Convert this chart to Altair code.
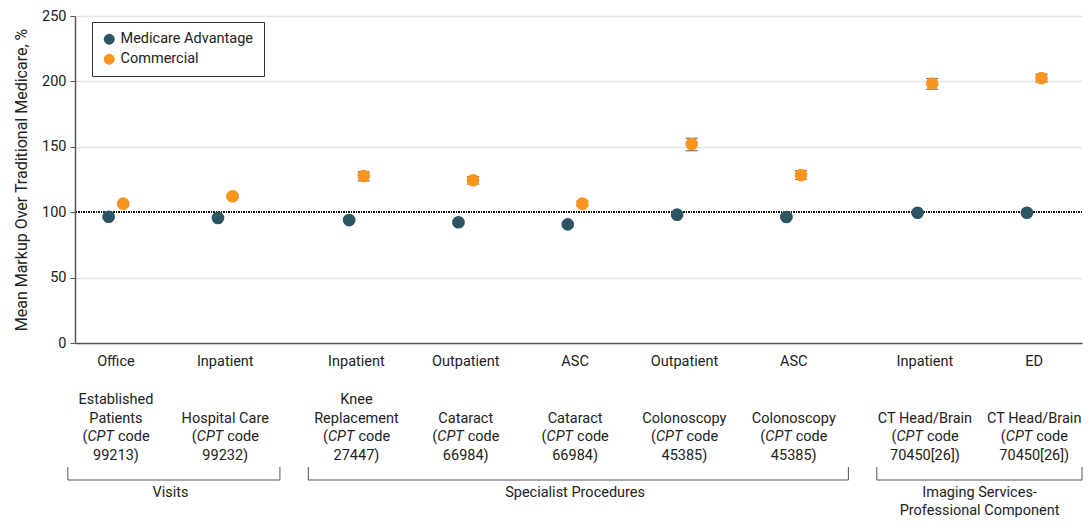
import altair as alt
import pandas as pd

FONT = "Roboto"
TXT = "#222222"
FS = 14.5

# ---- data ----
locations = ["Office", "Inpatient", "Inpatient", "Outpatient", "ASC",
             "Outpatient", "ASC", "Inpatient", "ED"]
service_line1 = ["Established", "", "Knee", "", "", "", "", "", ""]
service_line2 = ["Patients", "Hospital Care", "Replacement", "Cataract", "Cataract",
                 "Colonoscopy", "Colonoscopy", "CT Head/Brain", "CT Head/Brain"]
cpt_codes = ["99213)", "99232)", "27447)", "66984)", "66984)",
             "45385)", "45385)", "70450[26])", "70450[26])"]
group_of = [0, 0, 1, 1, 1, 1, 1, 2, 2]
group_names = ["Visits", "Specialist Procedures", "Imaging Services-\nProfessional Component"]

ma_mean = [96.5, 95.6, 94.0, 92.3, 90.7, 98.1, 96.3, 99.6, 99.6]
ma_lo = [95.3, 94.4, 92.8, 91.1, 89.6, 97.0, 95.2, 98.9, 98.9]
ma_hi = [97.7, 96.8, 95.2, 93.5, 91.8, 99.2, 97.4, 100.3, 100.3]
com_mean = [106.5, 112.2, 127.7, 124.4, 106.5, 152.1, 128.4, 198.4, 202.5]
com_lo = [105.0, 110.8, 124.0, 121.5, 104.5, 147.0, 125.0, 194.0, 199.5]
com_hi = [108.0, 113.6, 131.0, 127.2, 108.5, 156.5, 131.8, 202.2, 205.5]

series = ["Medicare Advantage", "Commercial"]
colors = ["#2c5564", "#f7951e"]

# ---- layout helpers (category slot positions with a gap between groups) ----
GAP = 0.2
pos = [i + GAP * g for i, g in enumerate(group_of)]
XMIN, XMAX = -0.3745, 8.837

cat_df = pd.DataFrame({
    "pos": pos, "location": locations, "line1": service_line1,
    "line2": service_line2, "code": cpt_codes,
})

rows = []
for i in range(len(locations)):
    rows.append({"pos": pos[i], "series": series[0], "value": ma_mean[i], "lo": ma_lo[i], "hi": ma_hi[i]})
    rows.append({"pos": pos[i], "series": series[1], "value": com_mean[i], "lo": com_lo[i], "hi": com_hi[i]})
df = pd.DataFrame(rows)

grp_rows = []
for g, name in enumerate(group_names):
    ps = [p for p, gg in zip(pos, group_of) if gg == g]
    start = ps[0] - 0.44
    end = min(ps[-1] + 0.5, XMAX)
    grp_rows.append({"name": name, "start": start, "end": end, "center": (ps[0] + ps[-1]) / 2})
grp_df = pd.DataFrame(grp_rows)

# ---- encodings ----
xscale = alt.Scale(domain=[XMIN, XMAX], nice=False, zero=False)
xaxis = alt.Axis(labels=False, ticks=False, grid=False, title=None,
                 domainColor="#555555", domainWidth=1.5)
yscale = alt.Scale(domain=[0, 250], nice=False)
yaxis = alt.Axis(values=[0, 50, 100, 150, 200, 250], title="Mean Markup Over Traditional Medicare, %",
                 titleFont=FONT, titleFontSize=16, titleFontWeight="normal", titleColor=TXT,
                 titlePadding=12, labelFont=FONT, labelFontSize=FS, labelColor=TXT, labelPadding=4,
                 tickColor="#555555", tickSize=5, domainColor="#555555", domainWidth=1.5,
                 grid=True,
                 gridColor={"condition": {"test": "datum.value == 100 || datum.value == 0",
                                          "value": "transparent"}, "value": "#e4e4e4"},
                 gridWidth=1.5)

X = alt.X("pos:Q", scale=xscale, axis=xaxis)
color = alt.Color("series:N", scale=alt.Scale(domain=series, range=colors),
                  legend=alt.Legend(orient="none", legendX=17, legendY=6, title=None,
                                    strokeColor="#333333", fillColor="white", padding=10,
                                    labelFont=FONT, labelFontSize=FS, labelColor=TXT,
                                    symbolType="circle", symbolSize=120, symbolStrokeWidth=0,
                                    rowPadding=5))

layers = []

# reference line at 100
layers.append(alt.Chart(df).mark_rule(color="#111111", strokeDash=[1, 1.5], strokeWidth=1).encode(
    y=alt.Y(datum=100, scale=yscale, axis=yaxis)))

for s, off in zip(series, [-7.3, 7.3]):
    sub = alt.Chart(df).transform_filter(alt.datum.series == s)
    layers.append(sub.mark_rule(color="#333333", strokeWidth=1, xOffset=off).encode(
        x=X, y=alt.Y("lo:Q", scale=yscale, axis=yaxis), y2="hi:Q"))
    layers.append(sub.mark_tick(color="#333333", orient="horizontal", size=12, thickness=1.2,
                                xOffset=off).encode(x=X, y=alt.Y("lo:Q", scale=yscale, axis=yaxis)))
    layers.append(sub.mark_tick(color="#333333", orient="horizontal", size=12, thickness=1.2,
                                xOffset=off).encode(x=X, y=alt.Y("hi:Q", scale=yscale, axis=yaxis)))
for s, off in zip(series, [-7.3, 7.3]):
    sub = alt.Chart(df).transform_filter(alt.datum.series == s)
    layers.append(sub.mark_circle(size=160, opacity=1, xOffset=off).encode(
        x=X, y=alt.Y("value:Q", scale=yscale, axis=yaxis), color=color))

# category labels below the plot
def txt(**kw):
    base = dict(font=FONT, fontSize=FS, color=TXT, baseline="middle")
    base.update(kw)
    return alt.Chart(cat_df).mark_text(**base)

layers.append(txt().encode(x=X, y=alt.value(346), text="location:N"))
layers.append(txt().encode(x=X, y=alt.value(384), text="line1:N"))
layers.append(txt().encode(x=X, y=alt.value(402.5), text="line2:N"))
layers.append(txt(align="right", dx=-28.5).encode(x=X, y=alt.value(421), text=alt.value("(")))
layers.append(txt(align="left", dx=-28.5, fontStyle="italic").encode(x=X, y=alt.value(421), text=alt.value("CPT")))
layers.append(txt(align="left", dx=2).encode(x=X, y=alt.value(421), text=alt.value("code")))
layers.append(txt().encode(x=X, y=alt.value(439.5), text="code:N"))

# group brackets and labels
gb = alt.Chart(grp_df)
layers.append(gb.mark_rule(color="#555555", strokeWidth=1).encode(
    x=alt.X("start:Q", scale=xscale, axis=xaxis), x2="end:Q", y=alt.value(464)))
layers.append(gb.mark_rule(color="#555555", strokeWidth=1).encode(
    x=alt.X("start:Q", scale=xscale, axis=xaxis), y=alt.value(451), y2=alt.value(464)))
layers.append(gb.mark_rule(color="#555555", strokeWidth=1).encode(
    x=alt.X("end:Q", scale=xscale, axis=xaxis), y=alt.value(451), y2=alt.value(464)))
layers.append(gb.mark_text(font=FONT, fontSize=FS, color=TXT, baseline="top", lineBreak="\n",
                           lineHeight=18).encode(
    x=alt.X("center:Q", scale=xscale, axis=xaxis), y=alt.value(469.5), text="name:N"))

chart = alt.layer(*layers).properties(
    width=1075, height=327,
    autosize=alt.AutoSizeParams(type="fit-x", contains="padding"),
    padding={"left": 5, "right": 0, "top": 0, "bottom": 0},
).configure_view(stroke=None)

chart.save("out.html", embed_options={"renderer": "svg", "actions": False})
